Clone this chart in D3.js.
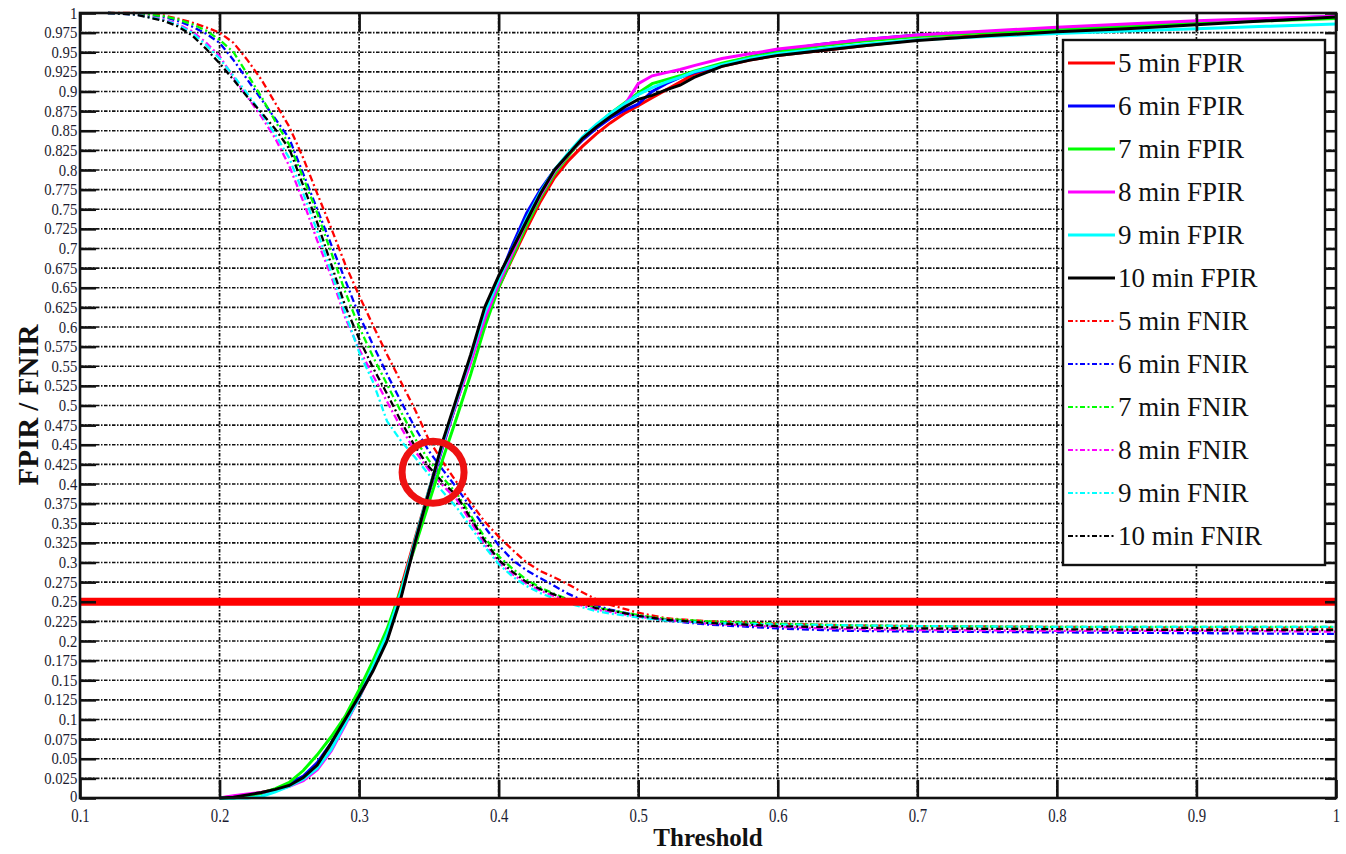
<!DOCTYPE html>
<html><head><meta charset="utf-8">
<script src="https://cdn.jsdelivr.net/npm/d3@7"></script>
<style>body{margin:0;background:#fff}svg{display:block}</style>
</head><body>
<svg id="c" width="1346" height="854"></svg>
<script>
// ---------- DATA ----------
const xTicks = [0.1,0.2,0.3,0.4,0.5,0.6,0.7,0.8,0.9,1];
const xTickLabels = ["0.1","0.2","0.3","0.4","0.5","0.6","0.7","0.8","0.9","1"];
const yTicks = d3.range(0,41).map(i=>+(i*0.025).toFixed(3));
const yTickLabels = yTicks.map(v=>v===0?"0":v===1?"1":String(v));
const seriesNames = ["5 min","6 min","7 min","8 min","9 min","10 min"];
const seriesColors = ["#ff0000","#0000ff","#00ff00","#ff00ff","#00ffff","#000000"];

const fpirX = [0.20,0.21,0.22,0.23,0.24,0.25,0.26,0.27,0.28,0.29,0.30,0.31,0.32,0.33,0.34,0.35,0.36,0.37,0.38,0.39,0.40,0.41,0.42,0.43,0.44,0.45,0.46,0.47,0.48,0.49,0.50,0.51,0.52,0.53,0.54,0.56,0.58,0.60,0.63,0.66,0.70,0.75,0.80,0.85,0.90,0.95,1.00];
const fpir5  = [0,0.002,0.004,0.007,0.011,0.017,0.027,0.04,0.065,0.095,0.128,0.165,0.21,0.268,0.33,0.392,0.45,0.505,0.56,0.61,0.65,0.688,0.725,0.76,0.79,0.812,0.83,0.846,0.86,0.872,0.882,0.892,0.902,0.912,0.922,0.932,0.94,0.946,0.952,0.958,0.966,0.972,0.978,0.982,0.987,0.991,0.995];
const fpir6  = [0,0,0.003,0.006,0.011,0.018,0.028,0.045,0.07,0.1,0.132,0.165,0.206,0.262,0.325,0.388,0.448,0.505,0.56,0.615,0.66,0.705,0.745,0.775,0.8,0.82,0.838,0.853,0.866,0.876,0.884,0.9,0.91,0.918,0.924,0.934,0.944,0.952,0.96,0.966,0.972,0.976,0.98,0.984,0.988,0.992,0.996];
const fpir7  = [0,0,0.002,0.006,0.012,0.02,0.035,0.055,0.078,0.104,0.138,0.175,0.215,0.265,0.32,0.376,0.432,0.485,0.54,0.6,0.65,0.69,0.73,0.765,0.795,0.818,0.84,0.857,0.872,0.885,0.898,0.91,0.915,0.92,0.926,0.936,0.944,0.95,0.958,0.964,0.97,0.975,0.979,0.983,0.987,0.99,0.993];
const fpir8  = [0,0.003,0.005,0.007,0.01,0.015,0.022,0.036,0.06,0.093,0.128,0.165,0.205,0.258,0.325,0.39,0.45,0.505,0.555,0.61,0.655,0.695,0.735,0.768,0.798,0.82,0.84,0.856,0.87,0.882,0.91,0.92,0.924,0.928,0.933,0.942,0.948,0.954,0.96,0.966,0.972,0.977,0.982,0.986,0.99,0.993,0.996];
const fpir9  = [0,0,0,0.002,0.008,0.015,0.024,0.038,0.062,0.095,0.128,0.168,0.208,0.262,0.328,0.392,0.452,0.508,0.562,0.618,0.66,0.7,0.738,0.772,0.8,0.822,0.842,0.858,0.872,0.884,0.896,0.905,0.912,0.918,0.925,0.934,0.942,0.948,0.954,0.96,0.966,0.97,0.974,0.977,0.98,0.983,0.986];
const fpir10 = [0,0.001,0.004,0.007,0.011,0.016,0.026,0.042,0.07,0.1,0.13,0.162,0.2,0.255,0.325,0.39,0.455,0.51,0.565,0.625,0.665,0.70,0.735,0.77,0.80,0.82,0.84,0.855,0.868,0.88,0.89,0.895,0.902,0.908,0.918,0.932,0.94,0.946,0.952,0.958,0.965,0.971,0.976,0.98,0.985,0.99,0.995];

const fnirX = [0.12,0.14,0.16,0.17,0.18,0.19,0.20,0.21,0.22,0.23,0.24,0.25,0.26,0.27,0.28,0.29,0.30,0.31,0.32,0.33,0.34,0.35,0.36,0.37,0.38,0.39,0.40,0.41,0.42,0.43,0.44,0.45,0.46,0.47,0.48,0.50,0.52,0.55,0.60,0.65,0.70,0.80,0.90,1.00];
const fnir5  = [1,1,0.997,0.993,0.988,0.982,0.975,0.962,0.94,0.915,0.885,0.855,0.815,0.77,0.726,0.68,0.64,0.602,0.565,0.53,0.495,0.456,0.428,0.402,0.376,0.352,0.333,0.316,0.3,0.289,0.281,0.272,0.262,0.253,0.246,0.236,0.229,0.225,0.222,0.22,0.219,0.218,0.217,0.217];
const fnir6  = [1,0.999,0.995,0.99,0.983,0.974,0.962,0.94,0.915,0.89,0.865,0.84,0.795,0.75,0.705,0.66,0.615,0.577,0.54,0.505,0.472,0.442,0.418,0.395,0.37,0.345,0.322,0.303,0.29,0.28,0.27,0.26,0.252,0.245,0.24,0.232,0.226,0.221,0.216,0.213,0.212,0.211,0.21,0.209];
const fnir7  = [1,0.999,0.996,0.992,0.986,0.978,0.966,0.95,0.922,0.893,0.862,0.832,0.79,0.745,0.695,0.645,0.6,0.562,0.527,0.492,0.458,0.43,0.408,0.388,0.36,0.332,0.308,0.292,0.278,0.268,0.26,0.253,0.248,0.243,0.239,0.233,0.228,0.225,0.222,0.22,0.219,0.218,0.218,0.218];
const fnir8  = [1,0.998,0.992,0.986,0.977,0.963,0.945,0.918,0.893,0.868,0.84,0.805,0.76,0.71,0.665,0.612,0.572,0.538,0.505,0.472,0.442,0.418,0.398,0.38,0.352,0.323,0.3,0.285,0.273,0.264,0.257,0.25,0.245,0.24,0.237,0.231,0.227,0.222,0.218,0.215,0.214,0.213,0.213,0.212];
const fnir9  = [1,0.998,0.991,0.985,0.975,0.96,0.942,0.92,0.897,0.872,0.845,0.815,0.77,0.722,0.67,0.618,0.568,0.53,0.48,0.455,0.434,0.412,0.39,0.37,0.345,0.32,0.298,0.282,0.27,0.261,0.254,0.248,0.243,0.238,0.235,0.23,0.226,0.223,0.221,0.22,0.219,0.218,0.218,0.218];
const fnir10 = [1,0.998,0.99,0.983,0.972,0.955,0.936,0.915,0.893,0.873,0.852,0.827,0.78,0.733,0.68,0.627,0.585,0.548,0.515,0.48,0.448,0.422,0.402,0.385,0.356,0.328,0.303,0.288,0.275,0.266,0.259,0.252,0.247,0.242,0.239,0.232,0.227,0.223,0.219,0.217,0.216,0.215,0.214,0.214];

const thresholdLine = 0.25;
const eerPoint = [0.353, 0.415];

// ---------- LAYOUT ----------
const L=80,R=1336,T=13,B=798;
const svg=d3.select("#c");
const x=d3.scaleLinear().domain([0.1,1]).range([L,R]);
const y=d3.scaleLinear().domain([0,1]).range([B,T]);
const serif="'Liberation Serif','Times New Roman',serif";

// grid
const grid=svg.append("g").attr("stroke","#111").attr("stroke-width",1.7).attr("stroke-dasharray","3.5,1.5,1.5,1.5");
grid.selectAll("line.h").data(yTicks.filter(v=>v>0&&v<1)).join("line")
  .attr("x1",L).attr("x2",R).attr("y1",d=>y(d)).attr("y2",d=>y(d));
grid.selectAll("line.v").data(xTicks.filter(v=>v>0.1&&v<1)).join("line")
  .attr("class","v").attr("y1",T).attr("y2",B).attr("x1",d=>x(d)).attr("x2",d=>x(d));

const line=d3.line().x(d=>x(d[0])).y(d=>y(d[1]));
const fnirs=[fnir5,fnir6,fnir7,fnir8,fnir9,fnir10];
const fpirs=[fpir5,fpir6,fpir7,fpir8,fpir9,fpir10];

const g=svg.append("g");
fnirs.forEach((s,i)=>{
  g.append("path").datum(fnirX.map((v,j)=>[v,s[j]])).attr("d",line)
   .attr("fill","none").attr("stroke",seriesColors[i]).attr("stroke-width",2.3)
   .attr("stroke-dasharray","7,3,2,3");
});
fpirs.forEach((s,i)=>{
  g.append("path").datum(fpirX.map((v,j)=>[v,s[j]])).attr("d",line)
   .attr("fill","none").attr("stroke",seriesColors[i]).attr("stroke-width",3);
});

// red threshold line and circle
svg.append("line").attr("x1",x(0.1)).attr("x2",x(1)).attr("y1",y(thresholdLine)).attr("y2",y(thresholdLine))
  .attr("stroke","#ff0000").attr("stroke-width",8);
svg.append("circle").attr("cx",x(eerPoint[0])).attr("cy",y(eerPoint[1])).attr("r",31)
  .attr("fill","none").attr("stroke","#ee1111").attr("stroke-width",7);

// axes
const fmtY=d=>yTickLabels[yTicks.indexOf(d)];
const fmtX=d=>xTickLabels[xTicks.indexOf(d)];
const axL=svg.append("g").attr("transform",`translate(${L},0)`)
  .call(d3.axisLeft(y).tickValues(yTicks).tickFormat(fmtY).tickSize(-16).tickPadding(3));
const axR=svg.append("g").attr("transform",`translate(${R},0)`)
  .call(d3.axisRight(y).tickValues(yTicks).tickFormat("").tickSize(-11));
const axB=svg.append("g").attr("transform",`translate(0,${B})`)
  .call(d3.axisBottom(x).tickValues(xTicks).tickFormat(fmtX).tickSize(-18).tickPadding(11));
const axT=svg.append("g").attr("transform",`translate(0,${T})`)
  .call(d3.axisTop(x).tickValues(xTicks).tickFormat("").tickSize(-18));
[axL,axR,axB,axT].forEach(a=>{
  a.select(".domain").remove();
  a.selectAll(".tick line").attr("stroke","#111").attr("stroke-width",2.6);
});
axL.selectAll("text").attr("font-family",serif).attr("font-size",16).attr("fill","#1c1c30")
  .attr("dy",d=>d===0?"0.2em":"0.32em").attr("transform","scale(0.92,1)");
axB.selectAll("text").attr("font-family",serif).attr("font-size",18).attr("fill","#1c1c30")
  .attr("transform","scale(0.82,1)");
svg.append("rect").attr("x",L).attr("y",T).attr("width",R-L).attr("height",B-T)
  .attr("fill","none").attr("stroke","#111").attr("stroke-width",2.6);

// axis titles
svg.append("text").attr("x",708).attr("y",846).attr("text-anchor","middle")
  .attr("font-family",serif).attr("font-weight","bold").attr("font-size",25).attr("fill","#111").text("Threshold");
svg.append("text").attr("transform","translate(38,405) rotate(-90)").attr("text-anchor","middle")
  .attr("font-family",serif).attr("font-weight","bold").attr("font-size",29).attr("fill","#111").text("FPIR / FNIR");

// legend
const lg=svg.append("g");
lg.append("rect").attr("x",1063).attr("y",40).attr("width",262).attr("height",525)
  .attr("fill","#fff").attr("stroke","#111").attr("stroke-width",2.4);
const entries=[];
seriesNames.forEach((n,i)=>entries.push({label:n+" FPIR",color:seriesColors[i],dash:null}));
seriesNames.forEach((n,i)=>entries.push({label:n+" FNIR",color:seriesColors[i],dash:"5,2.5,2,2.5"}));
entries.forEach((e,i)=>{
  const yy=63+i*43;
  lg.append("line").attr("x1",1068).attr("x2",1115).attr("y1",yy).attr("y2",yy)
    .attr("stroke",e.color).attr("stroke-width",e.dash?2:3.2).attr("stroke-dasharray",e.dash);
  lg.append("text").attr("x",1118).attr("y",yy).attr("dy","0.35em")
    .attr("font-family",serif).attr("font-size",27).attr("fill","#111").text(e.label);
});
</script>
</body></html>
